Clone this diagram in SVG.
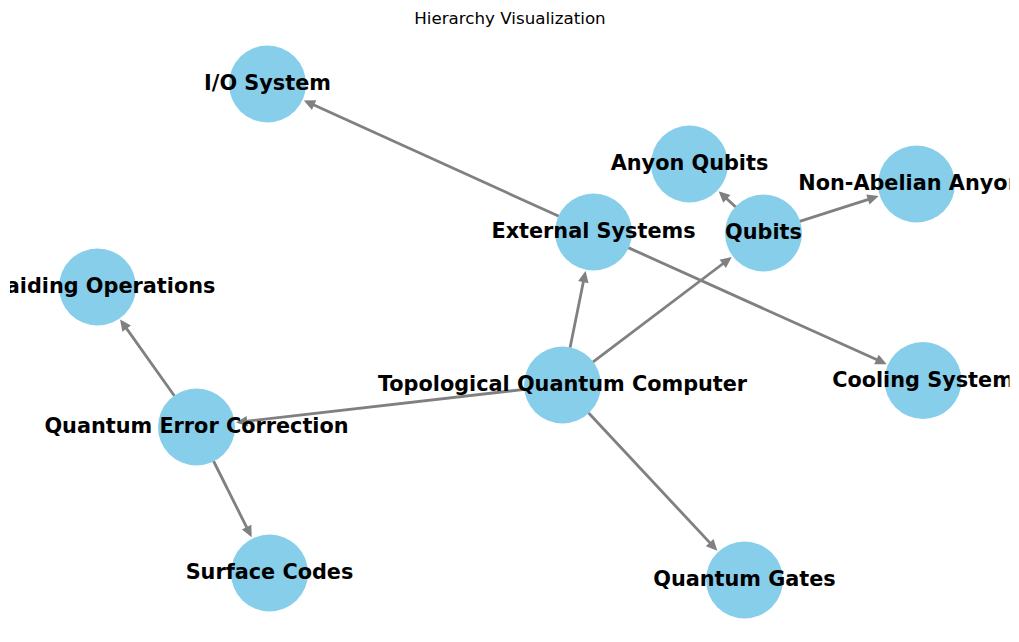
<svg xmlns="http://www.w3.org/2000/svg" width="1019" height="642" viewBox="0 0 1019 642">
<style>
.node circle{fill:#87CEEB;stroke:none}
.node text{font-family:"DejaVu Sans","Liberation Sans",sans-serif;font-weight:bold;font-size:20.8px;fill:#000;text-anchor:middle}
.edge{stroke:#808080;stroke-width:2.8;fill:none;marker-end:url(#arrow)}
.title{font-family:"DejaVu Sans","Liberation Sans",sans-serif;font-size:16.7px;fill:#000;text-anchor:middle}
</style>
<defs>
<marker id="arrow" markerUnits="userSpaceOnUse" orient="auto" refX="0" refY="0" markerWidth="20" markerHeight="20" viewBox="-10 -10 20 20" overflow="visible">
<path d="M-6.6,-3.1 L0,0 L-6.6,3.1 Z" fill="#808080" stroke="#808080" stroke-width="2.8" stroke-linejoin="miter"/>
</marker>
<clipPath id="axes"><rect x="10" y="0" width="999.5" height="642"/></clipPath>
</defs>
<rect width="1019" height="642" fill="#fff"/>
<text class="title" x="510" y="24">Hierarchy Visualization</text>
<g clip-path="url(#axes)">
<g id="edges">
<line class="edge" x1="570.05" y1="347.76" x2="584.9" y2="274.3"/>
<line class="edge" x1="592.81" y1="362.08" x2="729.1" y2="259"/>
<line class="edge" x1="524.75" y1="389.33" x2="239.3" y2="422.1"/>
<line class="edge" x1="588.43" y1="412.78" x2="715.1" y2="548.4"/>
<line class="edge" x1="558.9" y1="216.29" x2="306.8" y2="101.8"/>
<line class="edge" x1="628.15" y1="247.61" x2="883.7" y2="362.8"/>
<line class="edge" x1="735.71" y1="207.09" x2="721" y2="193.4"/>
<line class="edge" x1="799.68" y1="221.41" x2="875.5" y2="197.1"/>
<line class="edge" x1="174.49" y1="396.03" x2="122" y2="322.1"/>
<line class="edge" x1="213.5" y1="461" x2="250.2" y2="534.4"/>
</g>
<g id="node-io" class="node"><circle cx="267.5" cy="84" r="38.5"/><text x="267.5" y="90">I/O System</text></g>
<g id="node-anyon" class="node"><circle cx="689.5" cy="164" r="38.5"/><text x="689.5" y="170">Anyon Qubits</text></g>
<g id="node-nonabelian" class="node"><circle cx="916.5" cy="184" r="38.5"/><text x="916.5" y="190">Non-Abelian Anyons</text></g>
<g id="node-external" class="node"><circle cx="593.5" cy="232" r="38.5"/><text x="593.5" y="238">External Systems</text></g>
<g id="node-qubits" class="node"><circle cx="763.5" cy="233" r="38.5"/><text x="763.5" y="239">Qubits</text></g>
<g id="node-braiding" class="node"><circle cx="97.5" cy="287" r="38.5"/><text x="97.5" y="293">Braiding Operations</text></g>
<g id="node-cooling" class="node"><circle cx="923" cy="380.5" r="38.5"/><text x="923" y="386.5">Cooling System</text></g>
<g id="node-tqc" class="node"><circle cx="562.5" cy="385" r="38.5"/><text x="562.5" y="391">Topological Quantum Computer</text></g>
<g id="node-qec" class="node"><circle cx="196.5" cy="427" r="38.5"/><text x="196.5" y="433">Quantum Error Correction</text></g>
<g id="node-surface" class="node"><circle cx="269.5" cy="573" r="38.5"/><text x="269.5" y="579">Surface Codes</text></g>
<g id="node-gates" class="node"><circle cx="744.5" cy="580" r="38.5"/><text x="744.5" y="586">Quantum Gates</text></g>
</g>
</svg>
